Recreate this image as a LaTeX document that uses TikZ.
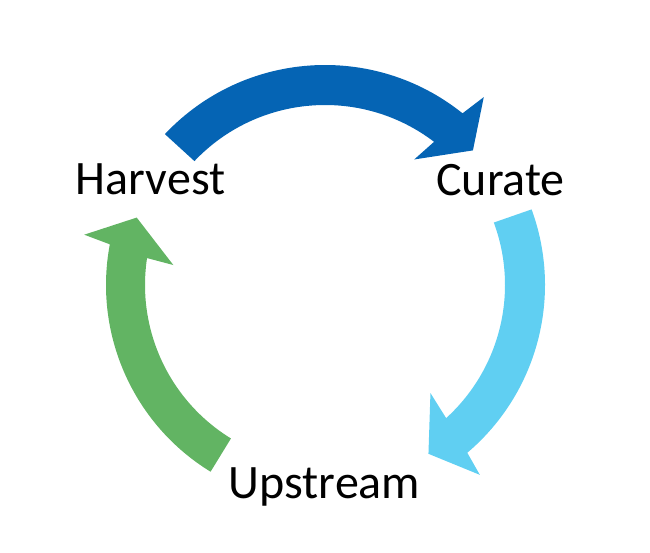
\documentclass[tikz,border=0pt]{standalone}
\usepackage{fontspec}
\setmainfont{Carlito}
\definecolor{arrowblue}{RGB}{5,100,180}
\definecolor{arrowsky}{RGB}{96,207,242}
\definecolor{arrowgreen}{RGB}{98,180,99}
\begin{document}
\begin{tikzpicture}[x=1pt,y=1pt,
  lbl/.style={anchor=base,inner sep=0pt,font=\fontsize{48}{58}\selectfont,text=black},
  ring/.style={draw=none}]
\useasboundingbox (0,0) rectangle (650,553);
\node[lbl] (h) at (150.5,358.7) {Harvest};
\node[lbl] (c) at (500.5,357.3) {Curate};
\node[lbl] (u) at (324.5,54.7) {Upstream};
\begin{scope}[shift={(325,268)}]
  % blue arrow: Harvest -> Curate
  \fill[arrowblue] (136.7:220) arc[start angle=136.7,end angle=51.3,radius=220]
    -- (49.8:246) -- (42.3:200) -- (54.6:154) -- (52.7:180)
    arc[start angle=52.7,end angle=136.5,radius=180] -- cycle;
  % light blue arrow: Curate -> Upstream
  \fill[arrowsky] (20.1:220) arc[start angle=20.1,end angle=-49.7,radius=220]
    -- (-50.8:245) -- (-58.5:198) -- (-45.7:151) -- (-47.7:180)
    arc[start angle=-47.7,end angle=20.3,radius=180] -- cycle;
  % green arrow: Upstream -> Harvest
  \fill[arrowgreen] (238.5:219) arc[start angle=238.5,end angle=169.3,radius=219]
    -- (168.2:246) -- (160.3:200) -- (172.5:153) -- (171.4:180)
    arc[start angle=171.4,end angle=238.5,radius=180] -- cycle;
\end{scope}
\end{tikzpicture}
\end{document}
